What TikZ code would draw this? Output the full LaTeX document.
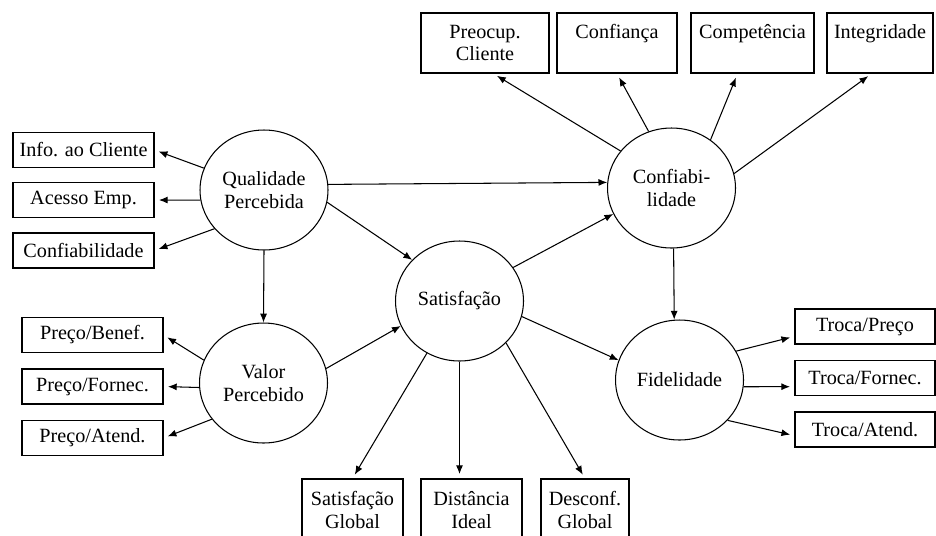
\documentclass[tikz,border=0pt]{standalone}
\usepackage{fontspec}
\setmainfont{Liberation Serif}
\usetikzlibrary{arrows.meta,shapes.geometric}

\begin{document}
\begin{tikzpicture}[x=0.02cm,y=-0.02cm,
        font=\fontsize{11.5}{13}\selectfont,
        var/.style={ellipse,draw,line width=0.6pt,minimum width=2.56cm,minimum height=2.4cm,inner sep=0pt,align=center},
        ind/.style={rectangle,draw,line width=0.6pt,minimum width=2.82cm,minimum height=0.7cm,inner sep=0pt,align=center},
        topind/.style={ind,minimum height=1.2cm},
        botind/.style={ind,minimum width=2.02cm,minimum height=1.24cm},
        arr/.style={-{Latex[length=5pt,width=4pt]},line width=0.6pt},
        tobox/.style={arr,shorten >=2.5pt}]
            \useasboundingbox (0,0) rectangle (936,535);
            % latent variables
            \node[var] (qp) at (264,190) {Qualidade\\Percebida};
            \node[var] (vp) at (263.5,383) {Valor\\Percebido};
            \node[var] (sat) at (459.5,301) {Satisfação};
            \node[var] (conf) at (671.5,188) {Confiabi-\\lidade};
            \node[var] (fid) at (679.5,380) {Fidelidade};
            % indicators
            \node[ind] (info) at (83.5,150) {Info. ao Cliente};
            \node[ind] (acesso) at (83.5,200) {Acesso Emp.};
            \node[ind] (confb) at (83.5,250.5) {Confiabilidade};
            \node[ind] (pbenef) at (92.5,335) {Preço/Benef.};
            \node[ind] (pforn) at (92.5,386.5) {Preço/Fornec.};
            \node[ind] (patend) at (92.5,438) {Preço/Atend.};
            \node[ind,minimum width=2.8cm] (tpreco) at (865,326.5) {Troca/Preço};
            \node[ind,minimum width=2.8cm] (tforn) at (865,378) {Troca/Fornec.};
            \node[ind,minimum width=2.8cm] (tatend) at (865,429.5) {Troca/Atend.};
            \node[topind,minimum width=2.56cm] (preoc) at (485,43) {Preocup.\\Cliente};
            \node[topind,minimum width=2.4cm] (confi) at (617,43) {Confiança\\\mbox{}};
            \node[topind,minimum width=2.46cm] (compet) at (752.5,43) {Competência\\\mbox{}};
            \node[topind,minimum width=2.12cm] (integ) at (880,43) {Integridade\\\mbox{}};
            \node[botind] (sglob) at (352.5,510) {Satisfação\\Global};
            \node[botind] (dist) at (471.5,510) {Distância\\Ideal};
            \node[botind,minimum width=1.76cm] (desc) at (585,510) {Desconf.\\Global};

            \draw[tobox] (qp.160) -- (info.east);
            \draw[tobox] (qp.189) -- (acesso.east);
            \draw[tobox] (qp.218) -- (confb.east);
            \draw[arr] (qp.south) -- (vp.north);
            \draw[arr] (qp.5) -- (conf.175);
            \draw[arr] (qp.-11) -- (sat.139);
            \draw[tobox] (vp.159) -- (pbenef.east);
            \draw[tobox] (vp.184) -- (pforn.east);
            \draw[tobox] (vp.215) -- (patend.east);
            \draw[arr] (vp.13) -- (sat.203);
            \draw[arr] (sat.32) -- (conf.204);
            \draw[arr] (sat.-14) -- (fid.162);
            \draw[tobox] (sat.238) -- (sglob.north);
            \draw[tobox] (sat.south) -- (sat.south |- dist.north);
            \draw[tobox] (sat.-42) -- (desc.north);
            \draw[tobox] (conf.144) -- (preoc.-75);
            \draw[tobox] (conf.112) -- (confi.south);
            \draw[tobox] (conf.51) -- (compet.-116);
            \draw[tobox] (conf.13) -- (integ.-105);
            \draw[arr] (conf.-88) -- (fid.95);
            \draw[tobox] (fid.27) -- (tpreco.188);
            \draw[tobox] (fid.-6) -- (tforn.187);
            \draw[tobox] (fid.-40) -- (tatend.185);
        \end{tikzpicture}
\end{document}
